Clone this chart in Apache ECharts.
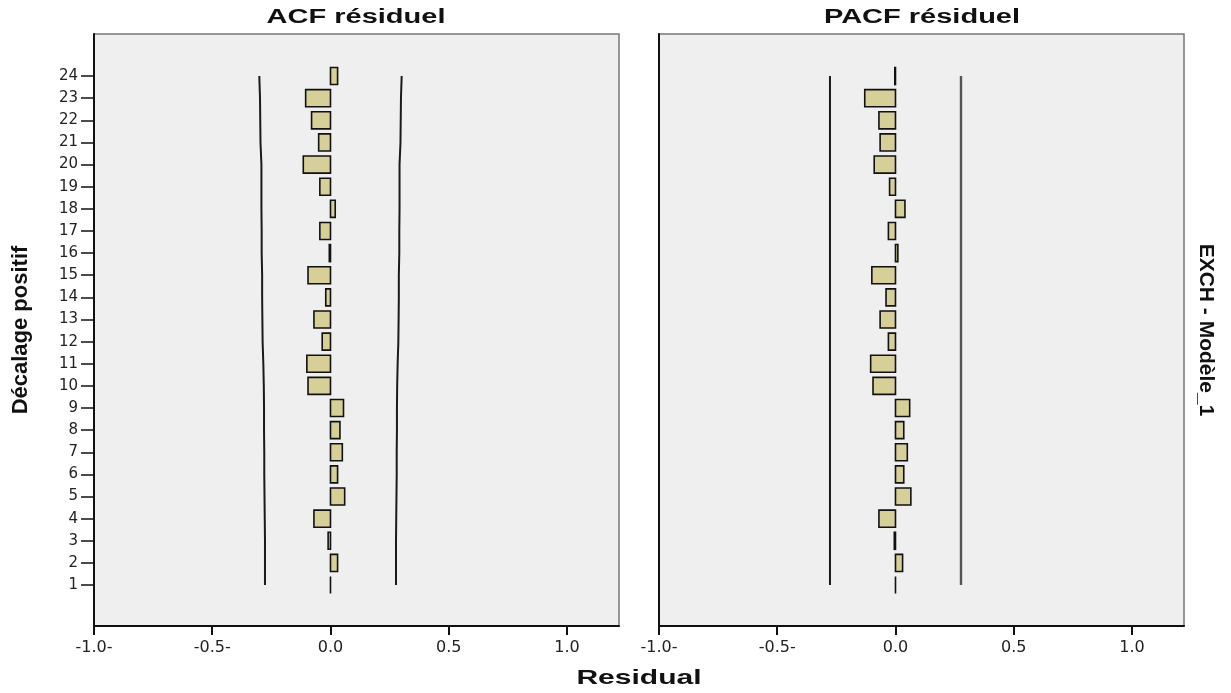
<!DOCTYPE html>
<html lang="fr">
<head>
    <meta charset="UTF-8">
    <title>ACF / PACF résiduel</title>
    <script src="https://cdn.jsdelivr.net/npm/echarts@6.0.0/dist/echarts.min.js"></script>
    <style>
        html, body { margin: 0; padding: 0; background: #fff; }
        #chart { width: 1231px; height: 693px; }
    </style>
</head>
<body>
    <div id="chart"></div>
    <script>
        // lags 1..24
        const lags = [1,2,3,4,5,6,7,8,9,10,11,12,13,14,15,16,17,18,19,20,21,22,23,24];
        // ACF of residuals
        const acfValues = [0.00, 0.03, -0.01, -0.07, 0.06, 0.03, 0.05, 0.04, 0.055, -0.095, -0.10, -0.035,
                           -0.07, -0.02, -0.095, -0.005, -0.045, 0.02, -0.045, -0.115, -0.05, -0.08, -0.105, 0.03];
        // confidence limit for ACF (widens slightly with lag)
        const acfLimits = [0.277, 0.277, 0.277, 0.278, 0.279, 0.280, 0.280, 0.281, 0.281, 0.282, 0.284, 0.287,
                           0.288, 0.289, 0.289, 0.291, 0.291, 0.292, 0.292, 0.292, 0.296, 0.297, 0.298, 0.301];
        // PACF of residuals
        const pacfValues = [0.00, 0.03, -0.005, -0.07, 0.065, 0.035, 0.05, 0.035, 0.06, -0.095, -0.105, -0.03,
                            -0.065, -0.04, -0.10, 0.01, -0.03, 0.04, -0.025, -0.09, -0.065, -0.07, -0.13, -0.003];
        const pacfLimit = 0.277;
        const xTicks = [-1, -0.5, 0, 0.5, 1];
        const xTickLabels = ['-1.0-', '-0.5-', '0.0', '0.5', '1.0'];

        const chart = echarts.init(document.getElementById('chart'), null, { renderer: 'canvas' });

        const barFill = '#d6cf98';
        const halfBar = 0.385;

        function renderBar(params, api) {
            const v = api.value(0);
            const lag = api.value(1);
            const a = api.coord([0, lag + halfBar]);
            const b = api.coord([v, lag - halfBar]);
            return {
                type: 'rect',
                shape: {
                    x: Math.min(a[0], b[0]),
                    y: Math.min(a[1], b[1]),
                    width: Math.abs(b[0] - a[0]),
                    height: Math.abs(b[1] - a[1])
                },
                style: { fill: barFill, stroke: '#111', lineWidth: 1.6 }
            };
        }

        function makeX(idx) {
            return {
                type: 'value', gridIndex: idx, min: -1, max: 1.22,
                axisLine: { show: true, onZero: false, lineStyle: { color: '#111', width: 2 } },
                axisTick: { show: true, length: 9, customValues: xTicks, lineStyle: { color: '#111', width: 2 } },
                axisLabel: {
                    customValues: xTicks, margin: 14, color: '#222',
                    fontFamily: 'DejaVu Sans', fontSize: 16,
                    formatter: v => xTickLabels[xTicks.indexOf(v)] || ''
                },
                splitLine: { show: false }
            };
        }

        function makeY(idx, labels) {
            return {
                type: 'value', gridIndex: idx, min: -0.85, max: 25.9,
                axisLine: { show: true, onZero: false, lineStyle: { color: '#111', width: 2 } },
                axisTick: { show: labels, length: 13, customValues: lags, lineStyle: { color: '#111', width: 1.5 } },
                axisLabel: {
                    show: labels, customValues: lags, margin: 16, color: '#222',
                    fontFamily: 'DejaVu Sans', fontSize: 15
                },
                splitLine: { show: false }
            };
        }

        const gridBase = { top: 34, bottom: 67, show: true, backgroundColor: '#efefef', borderColor: '#777', borderWidth: 1.5 };

        function textItem(text, x, y, size, opts) {
            return Object.assign({
                type: 'text', x: x, y: y,
                style: {
                    text: text, fill: '#111',
                    font: 'bold ' + size + 'px "Liberation Sans", Arial, sans-serif',
                    textAlign: 'center', textVerticalAlign: 'middle'
                }
            }, opts || {});
        }

        chart.setOption({
            animation: false,
            grid: [
                Object.assign({ left: 94, right: 612 }, gridBase),
                Object.assign({ left: 659, right: 47 }, gridBase)
            ],
            xAxis: [makeX(0), makeX(1)],
            yAxis: [makeY(0, true), makeY(1, false)],
            graphic: [
                textItem('ACF résiduel', 356, 17, 20, { scaleX: 1.45 }),
                textItem('PACF résiduel', 922, 17, 20, { scaleX: 1.45 }),
                textItem('Residual', 639, 678, 21, { scaleX: 1.43 }),
                textItem('Décalage positif', 21, 330, 22, { rotation: Math.PI / 2 }),
                textItem('EXCH - Modèle_1', 1206, 330, 21, { rotation: -Math.PI / 2 })
            ],
            series: [
                {
                    type: 'line', xAxisIndex: 0, yAxisIndex: 0, symbol: 'none', silent: true,
                    lineStyle: { color: '#1a1a1a', width: 2 },
                    data: lags.map((l, i) => [-acfLimits[i], l])
                },
                {
                    type: 'line', xAxisIndex: 0, yAxisIndex: 0, symbol: 'none', silent: true,
                    lineStyle: { color: '#1a1a1a', width: 2 },
                    data: lags.map((l, i) => [acfLimits[i], l])
                },
                {
                    type: 'custom', xAxisIndex: 0, yAxisIndex: 0, renderItem: renderBar,
                    data: lags.map((l, i) => [acfValues[i], l])
                },
                {
                    type: 'line', xAxisIndex: 1, yAxisIndex: 1, symbol: 'none', silent: true,
                    lineStyle: { color: '#1a1a1a', width: 2 },
                    data: [[-pacfLimit, lags[0]], [-pacfLimit, lags[lags.length - 1]]]
                },
                {
                    type: 'line', xAxisIndex: 1, yAxisIndex: 1, symbol: 'none', silent: true,
                    lineStyle: { color: '#555', width: 2.4 },
                    data: [[pacfLimit, lags[0]], [pacfLimit, lags[lags.length - 1]]]
                },
                {
                    type: 'custom', xAxisIndex: 1, yAxisIndex: 1, renderItem: renderBar,
                    data: lags.map((l, i) => [pacfValues[i], l])
                }
            ]
        });
    </script>
</body>
</html>
